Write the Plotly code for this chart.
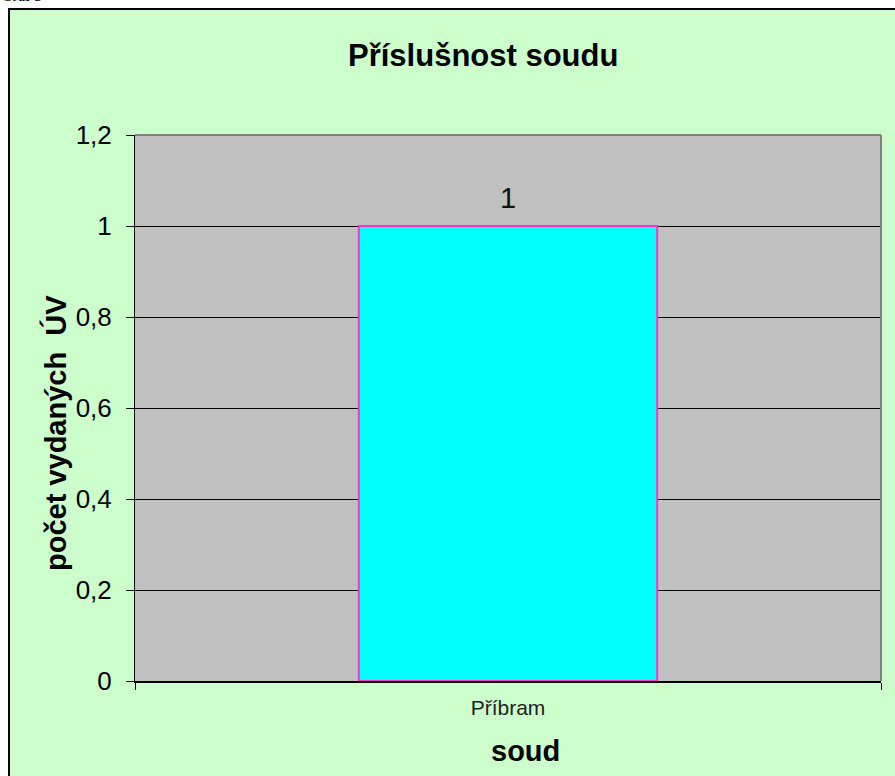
import plotly.graph_objects as go

# Data
courts = ["Příbram"]
counts = [1]
y_ticks = [0, 0.2, 0.4, 0.6, 0.8, 1.0, 1.2]

FONT = "Liberation Sans, Arial, sans-serif"

W, H = 895, 776
L, R, T, B = 135, 14, 135, 95
pw, ph = W - L - R, H - T - B


def px(x):
    return (x - L) / pw


def py(y):
    return (H - B - y) / ph


fig = go.Figure()

fig.add_trace(go.Bar(
    x=courts,
    y=counts,
    marker=dict(color="#00FFFF", line=dict(color="#FF33CC", width=2)),
    width=0.4,
    hoverinfo="x+y",
))

# value labels above bars
for c, v in zip(courts, counts):
    fig.add_annotation(x=c, y=v, text=str(v), showarrow=False, yshift=28,
                       font=dict(family=FONT, size=29, color="#111111"))

shapes = [
    # chart area (green with black frame)
    dict(type="rect", xref="paper", yref="paper", layer="below",
         x0=px(9), x1=px(905), y0=py(9), y1=py(800),
         fillcolor="#CCFFCC", line=dict(color="black", width=2)),
    # plot area
    dict(type="rect", xref="paper", yref="paper", layer="below",
         x0=0, x1=1, y0=0, y1=1, fillcolor="#C0C0C0", line=dict(width=0)),
    # plot area border top/right
    dict(type="line", xref="paper", yref="paper", layer="above",
         x0=0, x1=1, y0=1, y1=1, line=dict(color="#808080", width=2)),
    dict(type="line", xref="paper", yref="paper", layer="above",
         x0=1, x1=1, y0=0, y1=1, line=dict(color="#808080", width=2)),
]

annotations = [
    dict(text="<b>Příslušnost soudu</b>", x=px(483), y=py(55),
         font=dict(family=FONT, size=31, color="black")),
    dict(text="<b>soud</b>", x=px(525), y=py(751),
         font=dict(family=FONT, size=29, color="black")),
    dict(text="<b>počet vydaných  ÚV</b>", x=px(55), y=py(433), textangle=-90,
         font=dict(family=FONT, size=29, color="black")),
]

fig.update_layout(
    width=W, height=H,
    margin=dict(l=L, r=R, t=T, b=B),
    paper_bgcolor="white",
    plot_bgcolor="rgba(0,0,0,0)",
    separators=", ",
    showlegend=False,
    shapes=shapes,
    font=dict(family=FONT, color="black"),
)
for a in annotations:
    fig.add_annotation(xref="paper", yref="paper", xanchor="center", yanchor="middle",
                       showarrow=False, **a)

# caption above the chart frame (cut off at the top, as in the original)
fig.add_annotation(text="Graf 5", x=px(0), y=py(5), xref="paper", yref="paper",
                   xanchor="left", yanchor="bottom", showarrow=False, borderpad=0,
                   font=dict(family="Liberation Serif, Times New Roman, serif", size=16,
                             color="black"))

fig.update_yaxes(
    range=[0, 1.2], tickvals=y_ticks,
    showgrid=True, gridcolor="black", gridwidth=1,
    zeroline=False, showline=True, linecolor="black", linewidth=1,
    ticks="outside", ticklen=8, tickcolor="black",
    ticklabelstandoff=9,
    tickfont=dict(family=FONT, size=26, color="black"),
)
fig.update_xaxes(
    showgrid=False, showline=True, linecolor="black", linewidth=2,
    ticks="outside", tickson="boundaries", ticklen=7, tickcolor="black",
    ticklabelstandoff=7,
    tickfont=dict(family=FONT, size=21, color="#222222"),
)

fig.write_html("out.html", config={"displayModeBar": False},
               post_script="document.body.style.margin='0px';")
